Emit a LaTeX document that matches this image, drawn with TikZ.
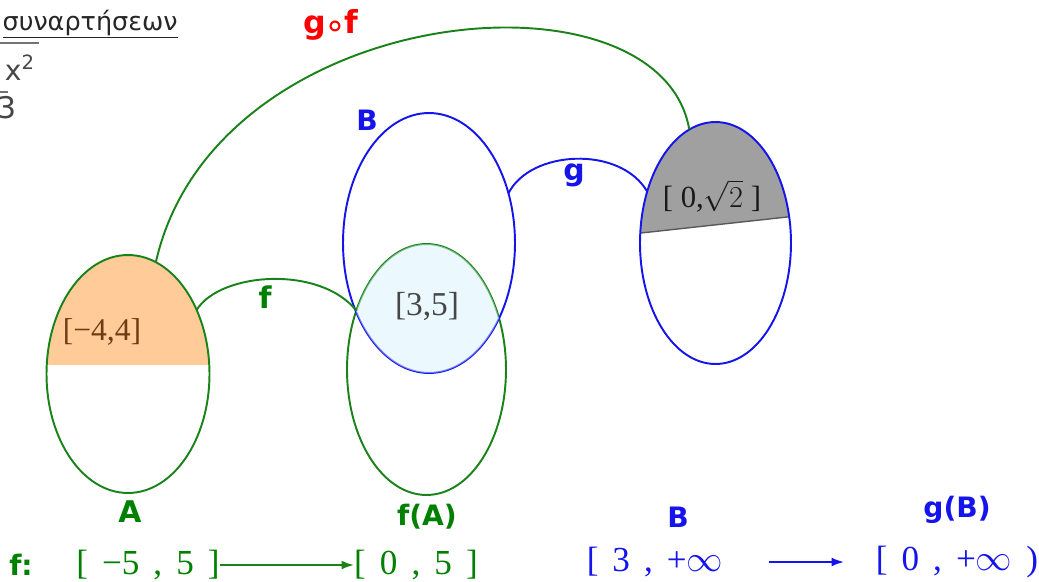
\documentclass[tikz,border=0pt]{standalone}
\usepackage{fontspec}
\setmainfont{Liberation Serif}
\newfontfamily\labfont{DejaVu Sans}
\usetikzlibrary{shapes.geometric,arrows.meta}
\definecolor{elgreen}{RGB}{25,130,25}
\definecolor{txtgreen}{RGB}{0,128,0}
\definecolor{myblue}{RGB}{20,20,235}
\definecolor{peach}{RGB}{255,204,153}
\definecolor{paleblue}{RGB}{216,241,251}
\definecolor{greyfill}{RGB}{160,160,160}
\definecolor{brownt}{RGB}{110,60,20}
\definecolor{darkgraytxt}{RGB}{70,70,70}
\newcommand\widesp{\spaceskip=0.4em plus 0pt minus 0pt\relax}
\begin{document}
\begin{tikzpicture}[x=0.02cm,y=-0.02cm,
  setshape/.style={ellipse,inner sep=0pt,outer sep=0pt,line width=1.1pt},
  lbl/.style={font=\labfont\bfseries\fontsize{16}{18}\selectfont,inner sep=0pt},
  ivl/.style={font=\fontsize{20}{22}\selectfont,inner sep=0pt},
  inner/.style={font=\fontsize{18}{20}\selectfont,inner sep=0pt},
  link/.style={line width=1.1pt},
  maparrow/.style={line width=0.9pt,-{Latex[length=7pt,width=5pt]}},
]
\useasboundingbox (0,0) rectangle (1039,582);

% ---- fills ----
\begin{scope}
  \clip (128,374) ellipse [x radius=1.63cm,y radius=2.38cm];
  \fill[peach] (40,240) rectangle (220,365);
\end{scope}
\begin{scope}
  \clip (715.5,243) ellipse [x radius=1.51cm,y radius=2.42cm];
  \fill[greyfill] (630,234.2) -- (800,215.6) -- (800,100) -- (630,100) -- cycle;
  \draw[line width=0.8pt,black!65] (630,234.2) -- (800,215.6);
\end{scope}

% ---- sets ----
\node[setshape,draw=elgreen,minimum width=3.26cm,minimum height=4.76cm] (A) at (128,374) {};
\node[setshape,draw=elgreen,minimum width=3.18cm,minimum height=5.02cm] (fA) at (426.5,369.5) {};
\node[setshape,draw=myblue,minimum width=3.44cm,minimum height=5.2cm] (B) at (429,243) {};
\node[setshape,draw=myblue,minimum width=3.02cm,minimum height=4.84cm] (gB) at (715.5,243) {};

% intersection of B and f(A)
\begin{scope}
  \clip (429,243) ellipse [x radius=1.72cm,y radius=2.6cm];
  \fill[paleblue,fill opacity=0.5] (426.5,369.5) ellipse [x radius=1.59cm,y radius=2.51cm];
\end{scope}

% ---- connectors ----
\draw[link,elgreen] (A.43) .. controls (220,272) and (320,265) .. (fA.140);
\draw[link,myblue] (B.32) .. controls (530,150) and (620,145) .. (gB.143);
\draw[link,elgreen] (A.76) .. controls (215,0) and (660,-40) .. (gB.103);

% ---- texts in sets ----
\node[inner,text=brownt] (tA) at (102,332) {[−4,4]};
\node[inner,text=darkgraytxt,font=\fontsize{19}{20}\selectfont] (tI) at (427,306) {[3,5]};
\node[inner,text=black!90,font=\fontsize{17.5}{20}\selectfont] (tG) at (712,196) {[ 0,$\sqrt{2}$ ]};

% ---- labels ----
\node[lbl,text=txtgreen,font=\labfont\bfseries\fontsize{17}{18}\selectfont] (lA) at (130,512) {A};
\node[lbl,text=txtgreen] (lfA) at (427,517) {f(A)};
\node[lbl,text=myblue] (lB) at (367,120) {B};
\node[lbl,text=myblue] (lB2) at (678,517) {B};
\node[lbl,text=myblue] (lgB) at (957,510) {g(B)};
\node[lbl,text=txtgreen,font=\labfont\bfseries\fontsize{17}{18}\selectfont] (lf) at (265,297) {f};
\node[lbl,text=myblue,font=\labfont\bfseries\fontsize{17}{18}\selectfont] (lg) at (574,175) {g};
\node[lbl,text=red,font=\labfont\bfseries\fontsize{18}{20}\selectfont] (lgf) at (331,25) {g\kern-0.05em{\mdseries\fontsize{20}{20}\selectfont\raisebox{-0.12em}{∘}}\kern-0.05em f};

% ---- bottom row ----
\node[lbl,text=txtgreen] (fcolon) at (21,565) {f:};
\node[ivl,text=txtgreen] (dom1) at (148,565) {\widesp{}[ −5 , 5 ]};
\node[ivl,text=txtgreen] (cod1) at (416,565) {\widesp{}[ 0 , 5 ]};
\draw[maparrow,elgreen] (dom1.east) -- (cod1.west);
\node[ivl,text=myblue] (dom2) at (655,562) {\widesp{}[ 3 , +$\infty$};
\node[ivl,text=myblue] (cod2) at (957,562) {\widesp{}[ 0 , +$\infty$ )};
\draw[maparrow,myblue,shorten <=26pt,shorten >=18pt] (dom2.east) -- (cod2.west);

% ---- top-left fragment ----
\node[anchor=base east,inner sep=0pt,text=black!85,font=\labfont\fontsize{14.5}{16}\selectfont] (title) at (178,30) {\underline{συναρτήσεων}};
\draw[line width=0.8pt,black!55] (0,43) -- (39,43);
\node[inner sep=0pt,text=darkgraytxt,font=\labfont\fontsize{16}{18}\selectfont] (xsq) at (20,68) {x\textsuperscript{2}};
\draw[line width=0.8pt,black!55] (0,92) -- (8,92);
\node[inner sep=0pt,text=darkgraytxt,font=\labfont\fontsize{17}{18}\selectfont] (three) at (7,108) {3};
\end{tikzpicture}
\end{document}
